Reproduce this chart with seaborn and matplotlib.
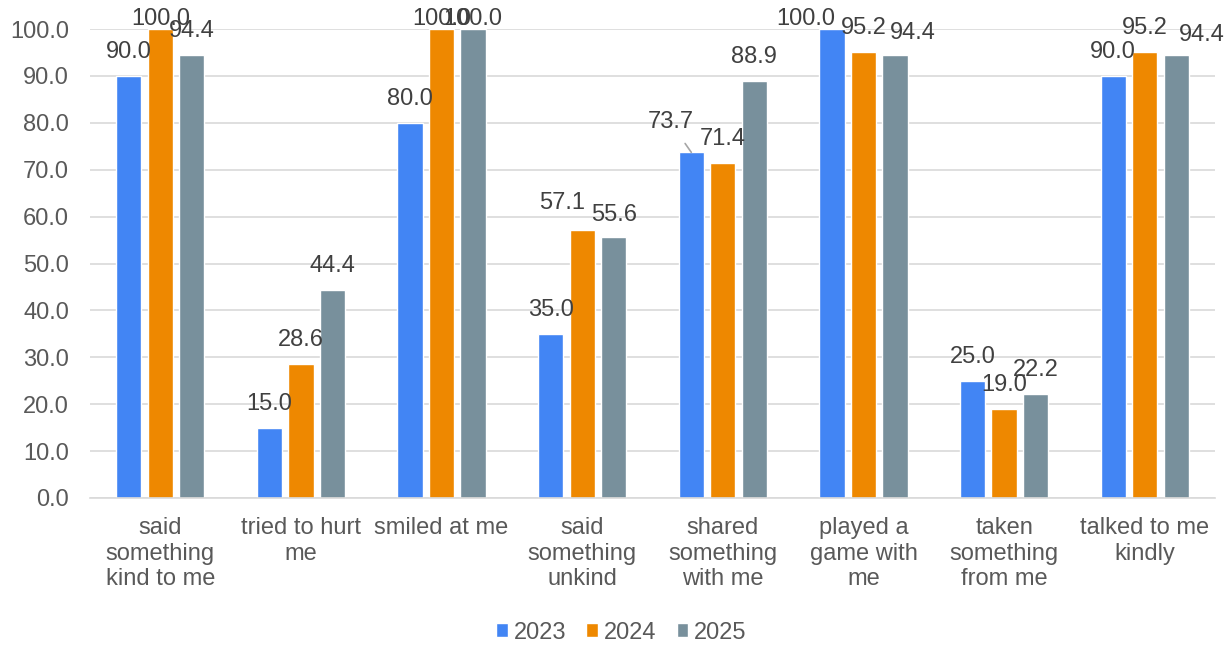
import pandas as pd
import matplotlib.pyplot as plt
import seaborn as sns

# Chart data
categories = ['said\nsomething\nkind to me', 'tried to hurt\nme', 'smiled at me',
              'said\nsomething\nunkind', 'shared\nsomething\nwith me',
              'played a\ngame with\nme', 'taken\nsomething\nfrom me', 'talked to me\nkindly']
years = ['2023', '2024', '2025']
values_2023 = [90.0, 15.0, 80.0, 35.0, 73.7, 100.0, 25.0, 90.0]
values_2024 = [100.0, 28.6, 100.0, 57.1, 71.4, 95.2, 19.0, 95.2]
values_2025 = [94.4, 44.4, 100.0, 55.6, 88.9, 94.4, 22.2, 94.4]

# Long-form table for seaborn
df = pd.DataFrame({
    'category': categories * 3,
    'year': [y for y in years for _ in categories],
    'value': values_2023 + values_2024 + values_2025,
})

colors = ['#4285F4', '#EE8800', '#78909C']
fs = 17

sns.set_style("white")
plt.rcParams['font.family'] = ['Liberation Sans', 'DejaVu Sans']

fig = plt.figure(figsize=(12.3, 6.48), dpi=100)
ax = fig.add_axes([0.0732, 0.2315, 0.9146, 0.7237])

sns.barplot(data=df, x='category', y='value', hue='year', palette=colors,
            saturation=1, width=0.672, gap=0.2, ax=ax, legend=True)

# Label nudges in pixels (year index, category index) -> (dx, dy), like the original's placement
default_offset = (0, 24)
nudges = {
    (1, 0): (0, 10), (1, 2): (0, 10), (2, 2): (0, 10),
    (1, 3): (-20, 27), (2, 3): (0, 22),
    (0, 5): (-26, 10), (2, 5): (18, 22),
    (2, 7): (26, 20),
}
leader = {(0, 4): (-21, 30)}

for yi, container in enumerate(ax.containers):
    for ci, bar in enumerate(container.patches):
        x = bar.get_x() + bar.get_width() / 2
        h = bar.get_height()
        if (yi, ci) in leader:
            dx, dy = leader[(yi, ci)]
            ax.annotate(f'{h:.1f}', xy=(x, h), xytext=(dx, dy), textcoords='offset pixels',
                        ha='center', va='center', fontsize=fs, color='#404040',
                        arrowprops=dict(arrowstyle='-', color='#A6A6A6', lw=1.2,
                                        shrinkA=6, shrinkB=0))
        else:
            dx, dy = nudges.get((yi, ci), default_offset)
            ax.annotate(f'{h:.1f}', xy=(x, h), xytext=(dx, dy), textcoords='offset pixels',
                        ha='center', va='center', fontsize=fs, color='#404040')

ax.set_ylim(0, 100)
ax.set_yticks(range(0, 101, 10))
ax.set_yticklabels([f'{v:.1f}' for v in range(0, 101, 10)])
ax.yaxis.grid(True, color='#D9D9D9', linewidth=1.2)
ax.set_axisbelow(True)
for side in ['top', 'right', 'left']:
    ax.spines[side].set_visible(False)
ax.spines['bottom'].set_color('#D9D9D9')
ax.spines['bottom'].set_linewidth(1.2)

ax.tick_params(axis='both', length=0, labelsize=fs, labelcolor='#595959')
ax.tick_params(axis='y', pad=15)
ax.tick_params(axis='x', pad=14)
for lbl in ax.get_xticklabels():
    lbl.set_linespacing(1.2)
ax.set_xlabel('')
ax.set_ylabel('')

ax.legend(loc='center', bbox_to_anchor=(0.4724, -0.287), ncol=3, frameon=False,
          fontsize=fs, labelcolor='#595959', handlelength=0.5, handleheight=0.5,
          handletextpad=0.25, columnspacing=0.85)

plt.savefig('out.png', dpi=100)
